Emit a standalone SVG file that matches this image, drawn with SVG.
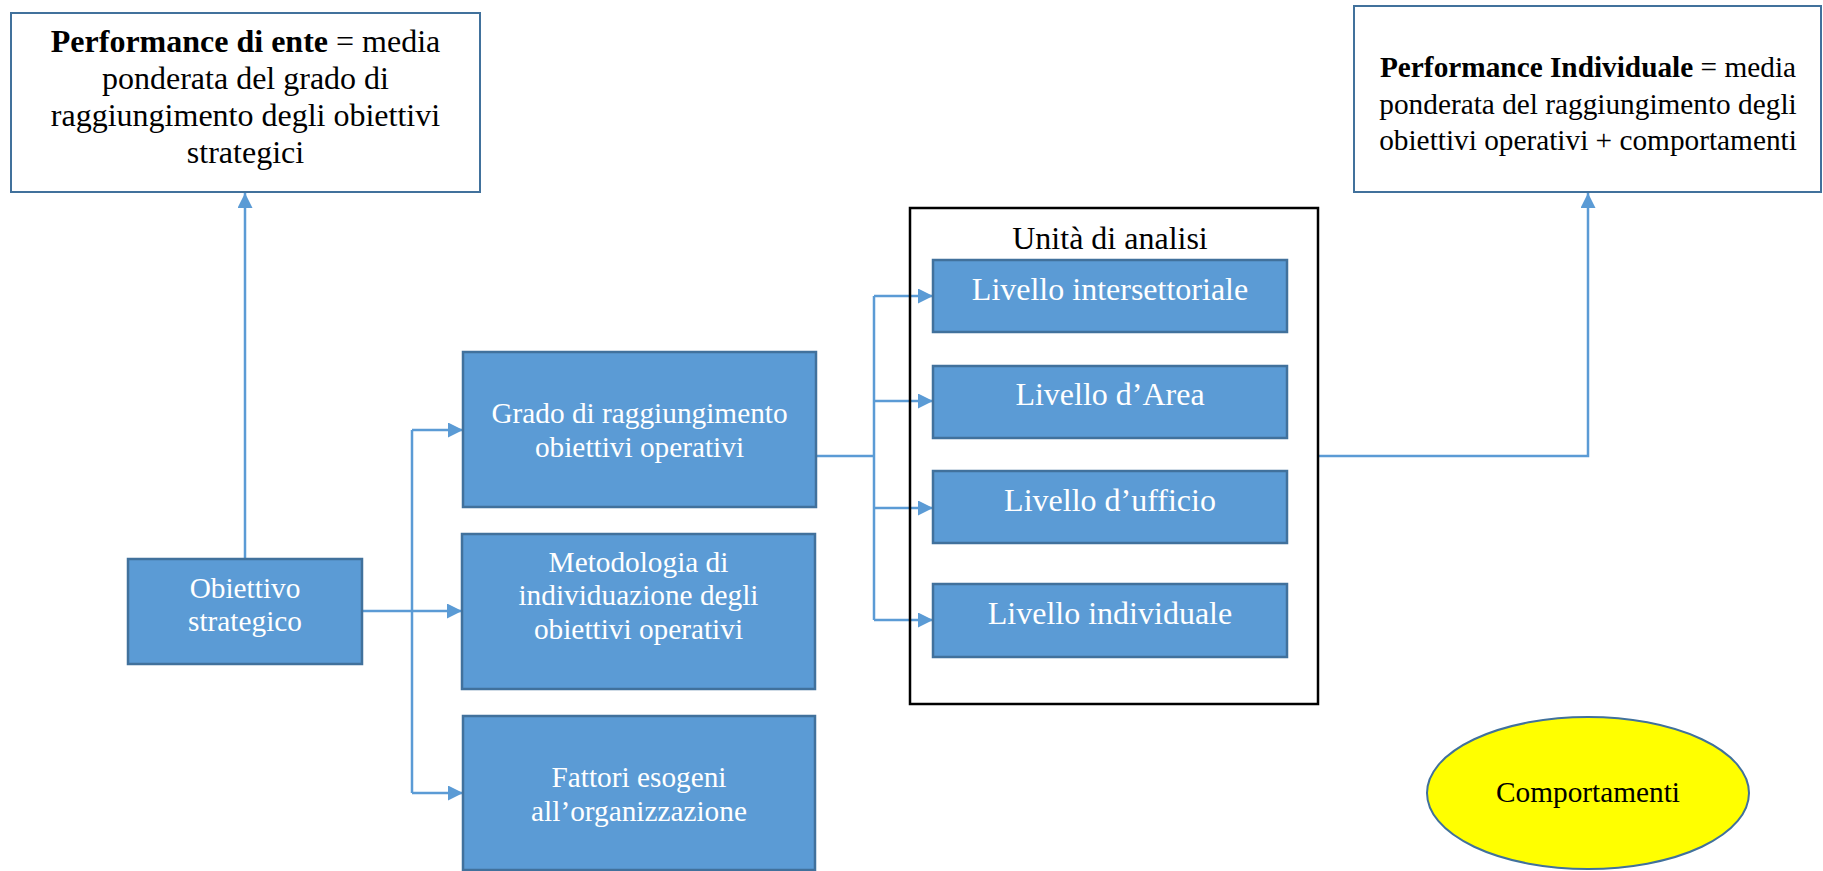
<svg xmlns="http://www.w3.org/2000/svg" width="1823" height="871" viewBox="0 0 1823 871">
<style>
  text { font-family: "Liberation Serif", "Times New Roman", serif; text-anchor: middle; }
  .wbox { fill: #ffffff; stroke: #41719C; stroke-width: 2; }
  .bbox { fill: #5B9BD5; stroke: #41719C; stroke-width: 2.5; }
  .wt { fill: #ffffff; font-size: 29.3px; }
  .lt { fill: #ffffff; font-size: 32px; }
  .kt { fill: #000000; }
  .conn { fill: none; stroke: #5B9BD5; stroke-width: 2.5; }
</style>
<defs>
  <marker id="arr" markerUnits="userSpaceOnUse" markerWidth="15" markerHeight="15" refX="15" refY="7.5" orient="auto">
    <path d="M0,0 L15,7.5 L0,15 z" fill="#5B9BD5"/>
  </marker>
</defs>
<rect width="1823" height="871" fill="#ffffff"/>

<g id="connectors">
  <path class="conn" d="M245 559 V193" marker-end="url(#arr)"/>
  <path class="conn" d="M362 611 H462" marker-end="url(#arr)"/>
  <path class="conn" d="M412 430 V793"/>
  <path class="conn" d="M412 430 H463" marker-end="url(#arr)"/>
  <path class="conn" d="M412 793 H463" marker-end="url(#arr)"/>
  <path class="conn" d="M816 456 H874"/>
  <path class="conn" d="M874 296 V620"/>
  <path class="conn" d="M874 296 H933" marker-end="url(#arr)"/>
  <path class="conn" d="M874 401 H933" marker-end="url(#arr)"/>
  <path class="conn" d="M874 508 H933" marker-end="url(#arr)"/>
  <path class="conn" d="M874 620 H933" marker-end="url(#arr)"/>
  <path class="conn" d="M1318 456 H1588 V193" marker-end="url(#arr)"/>
</g>

<g id="performance-ente">
  <rect class="wbox" x="11" y="13" width="469" height="179"/>
  <text class="kt" font-size="32" x="245.5" y="52"><tspan font-weight="bold">Performance di ente</tspan> = media</text>
  <text class="kt" font-size="32" x="245.5" y="89">ponderata del grado di</text>
  <text class="kt" font-size="32" x="245.5" y="126">raggiungimento degli obiettivi</text>
  <text class="kt" font-size="32" x="245.5" y="163">strategici</text>
</g>

<g id="performance-individuale">
  <rect class="wbox" x="1354" y="6" width="467" height="186"/>
  <text class="kt" font-size="29.3" x="1588" y="77"><tspan font-weight="bold">Performance Individuale</tspan> = media</text>
  <text class="kt" font-size="29.3" x="1588" y="114">ponderata del raggiungimento degli</text>
  <text class="kt" font-size="29.3" x="1588" y="150">obiettivi operativi + comportamenti</text>
</g>

<g id="obiettivo-strategico">
  <rect class="bbox" x="128" y="559" width="234" height="105"/>
  <text class="wt" x="245" y="598">Obiettivo</text>
  <text class="wt" x="245" y="631">strategico</text>
</g>

<g id="grado">
  <rect class="bbox" x="463" y="352" width="353" height="155"/>
  <text class="wt" x="639.5" y="423">Grado di raggiungimento</text>
  <text class="wt" x="639.5" y="457">obiettivi operativi</text>
</g>

<g id="metodologia">
  <rect class="bbox" x="462" y="534" width="353" height="155"/>
  <text class="wt" x="638.5" y="572">Metodologia di</text>
  <text class="wt" x="638.5" y="605">individuazione degli</text>
  <text class="wt" x="638.5" y="639">obiettivi operativi</text>
</g>

<g id="fattori">
  <rect class="bbox" x="463" y="716" width="352" height="154"/>
  <text class="wt" x="639" y="787">Fattori esogeni</text>
  <text class="wt" x="639" y="821">all’organizzazione</text>
</g>

<g id="unita-di-analisi">
  <rect x="910" y="208" width="408" height="496" fill="none" stroke="#000000" stroke-width="2.5"/>
  <text class="kt" font-size="32" x="1110" y="249">Unità di analisi</text>
</g>

<g id="livello-intersettoriale">
  <rect class="bbox" x="933" y="260" width="354" height="72"/>
  <text class="lt" x="1110" y="300">Livello intersettoriale</text>
</g>

<g id="livello-area">
  <rect class="bbox" x="933" y="366" width="354" height="72"/>
  <text class="lt" x="1110" y="405">Livello d’Area</text>
</g>

<g id="livello-ufficio">
  <rect class="bbox" x="933" y="471" width="354" height="72"/>
  <text class="lt" x="1110" y="511">Livello d’ufficio</text>
</g>

<g id="livello-individuale">
  <rect class="bbox" x="933" y="584" width="354" height="73"/>
  <text class="lt" x="1110" y="624">Livello individuale</text>
</g>

<g id="comportamenti">
  <ellipse cx="1588" cy="793" rx="161" ry="76" fill="#FFFF00" stroke="#41719C" stroke-width="2"/>
  <text class="kt" font-size="29.3" x="1588" y="802">Comportamenti</text>
</g>
</svg>
